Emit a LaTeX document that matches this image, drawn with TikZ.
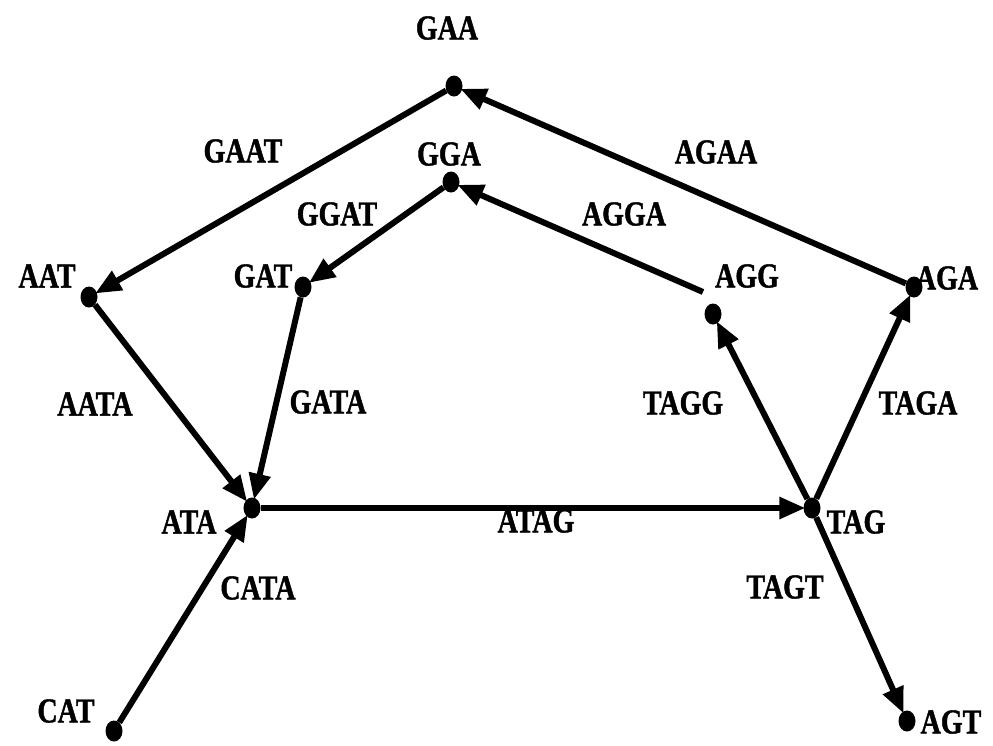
\documentclass[tikz,border=0pt]{standalone}
\usepackage{fontspec}
\setmainfont{Liberation Serif}[FakeStretch=0.8,FakeBold=1.2]
\usetikzlibrary{arrows.meta,shapes.geometric}
\begin{document}
\begin{tikzpicture}[x=1pt,y=-1pt,
  vtx/.style={ellipse,fill=black,minimum width=17pt,minimum height=21pt,inner sep=0pt},
  lbl/.style={font=\fontsize{35}{38}\selectfont\bfseries,inner sep=0pt},
  edge/.style={line width=6pt,-{Triangle[length=26pt,width=21pt]},shorten >=-2pt}]
\useasboundingbox (0,0) rectangle (993,745);
\fill[white] (0,0) rectangle (993,745);

% vertices (3-mers)
\node[vtx] (GAA) at (454,86) {};
\node[vtx] (GGA) at (451,182) {};
\node[vtx] (AAT) at (89,297) {};
\node[vtx] (GAT) at (303,287) {};
\node[vtx] (AGG) at (713,314) {};
\node[vtx] (AGA) at (914,287) {};
\node[vtx] (ATA) at (252,508) {};
\node[vtx] (TAG) at (812,508) {};
\node[vtx] (CAT) at (114,731) {};
\node[vtx] (AGT) at (907,721) {};
\coordinate (aggS) at (703,292);

% vertex labels
\node[lbl] (tGAA) at (447,28) {GAA};
\node[lbl] (tGGA) at (449,154) {GGA};
\node[lbl] (tAAT) at (47,276) {AAT};
\node[lbl] (tGAT) at (263,276) {GAT};
\node[lbl] (tAGG) at (747,276) {AGG};
\node[lbl] (tAGA) at (947,278) {AGA};
\node[lbl] (tATA) at (189,522) {ATA};
\node[lbl] (tTAG) at (856,522) {TAG};
\node[lbl] (tCAT) at (66,711) {CAT};
\node[lbl] (tAGT) at (951,722) {AGT};

% edges (4-mers)
\draw[edge] (GAA) -- (AAT);
\draw[edge] (GGA) -- (GAT);
\draw[edge] (AAT) -- (ATA);
\draw[edge] (GAT) -- (ATA);
\draw[edge] (CAT) -- (ATA);
\draw[edge] (ATA) -- (TAG);
\draw[edge] (TAG) -- (AGG);
\draw[edge] (TAG) -- (AGA);
\draw[edge] (TAG) -- (AGT);
\draw[edge] (aggS) -- (GGA);
\draw[edge] (AGA) -- (GAA);

% edge labels
\node[lbl] (eGAAT) at (243,151) {GAAT};
\node[lbl] (eGGAT) at (337,214) {GGAT};
\node[lbl] (eAGGA) at (624,214) {AGGA};
\node[lbl] (eAGAA) at (716,152) {AGAA};
\node[lbl] (eAATA) at (95,404) {AATA};
\node[lbl] (eGATA) at (328,402) {GATA};
\node[lbl] (eTAGG) at (683,403) {TAGG};
\node[lbl] (eTAGA) at (918,403) {TAGA};
\node[lbl] (eATAG) at (536,521) {ATAG};
\node[lbl] (eCATA) at (258,588) {CATA};
\node[lbl] (eTAGT) at (785,587) {TAGT};
\end{tikzpicture}
\end{document}
